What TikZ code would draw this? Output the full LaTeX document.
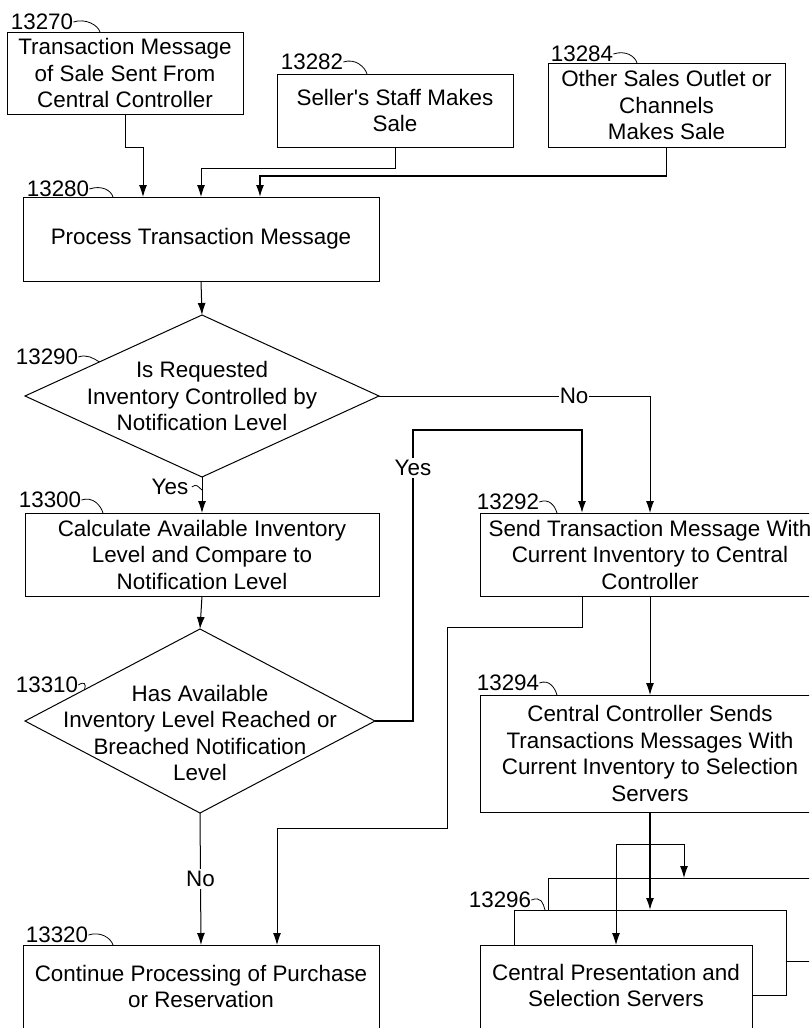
\documentclass[tikz,border=0pt]{standalone}
\usepackage{fontspec}
\setmainfont{Liberation Sans}
\usetikzlibrary{shapes.geometric,arrows.meta,calc}
\begin{document}
\begin{tikzpicture}[x=1pt,y=-1pt,
    font=\fontsize{22.4}{26.5}\selectfont,
    box/.style={draw,line width=1pt,fill=white,align=center,inner sep=0pt,outer sep=0pt},
    decision/.style={draw,diamond,line width=1pt,inner sep=0pt,outer sep=0pt},
    flow/.style={line width=1pt,-{Latex[length=12pt,width=8pt]}},
    heavy/.style={flow,line width=1.6pt},
    refnum/.style={inner sep=0pt},
    lead/.style={line width=0.8pt}]
  \clip (0,0) rectangle (809,1028);
  % sources
  \node[box,minimum width=236pt,minimum height=82pt] (n13270) at (125,73)
    {Transaction Message\\of Sale Sent From\\Central Controller};
  \node[box,minimum width=236pt,minimum height=73pt] (n13282) at (395,110.5)
    {Seller\textquotesingle s Staff Makes\\Sale};
  \node[box,minimum width=237pt,minimum height=84pt] (n13284) at (666.5,105)
    {Other Sales Outlet or\\Channels\\Makes Sale};
  % left column
  \node[box,minimum width=356pt,minimum height=84pt] (n13280) at (201,239)
    {Process Transaction Message};
  \node[decision,minimum width=354pt,minimum height=162pt,
    label={[align=center]center:Is Requested\\Inventory Controlled by\\Notification Level}]
    (d13290) at (202,396) {};
  \node[box,minimum width=354pt,minimum height=83pt] (n13300) at (202,554.5)
    {Calculate Available Inventory\\Level and Compare to\\Notification Level};
  \node[decision,minimum width=350pt,minimum height=184pt,
    label={[align=center,yshift=-12pt]center:Has Available\\Inventory Level Reached or\\Breached Notification\\Level}]
    (d13310) at (200,721) {};
  \node[box,minimum width=356pt,minimum height=90pt,
    label={[align=center,yshift=3.5pt]center:Continue Processing of Purchase\\or Reservation}]
    (n13320) at (201,990) {};
  % right column
  \node[box,minimum width=340pt,minimum height=83pt] (n13292) at (650,554.5)
    {Send Transaction Message With\\Current Inventory to Central\\Controller};
  \node[box,minimum width=340pt,minimum height=117pt] (n13294) at (650,753.5)
    {Central Controller Sends\\Transactions Messages With\\Current Inventory to Selection\\Servers};
  \node[box,minimum width=272pt,minimum height=83pt] (back13296) at (684,919.5) {};
  \node[box,minimum width=272pt,minimum height=85pt] (mid13296) at (650,952.5) {};
  \node[box,minimum width=272pt,minimum height=90pt,
    label={[align=center,yshift=4.5pt]center:Central Presentation and\\Selection Servers}]
    (n13296) at (616,990) {};

  % reference numbers
  \node[refnum] (l13270) at (42,22) {13270};
  \node[refnum] (l13282) at (312,62) {13282};
  \node[refnum] (l13284) at (582,54) {13284};
  \node[refnum] (l13280) at (58,189) {13280};
  \node[refnum] (l13290) at (47,357) {13290};
  \node[refnum] (l13300) at (50,500) {13300};
  \node[refnum] (l13310) at (47,685) {13310};
  \node[refnum] (l13320) at (57,935) {13320};
  \node[refnum] (l13292) at (508,502) {13292};
  \node[refnum] (l13294) at (508,683) {13294};
  \node[refnum] (l13296) at (500,900) {13296};
  \draw[lead] (l13270.east) .. controls +(12,-4) and +(-2,-7) .. ([xshift=93pt]n13270.north west);
  \draw[lead] (l13282.east) .. controls +(12,-4) and +(-2,-7) .. ([xshift=90pt]n13282.north west);
  \draw[lead] (l13284.east) .. controls +(12,-4) and +(-2,-7) .. ([xshift=89pt]n13284.north west);
  \draw[lead] (l13280.east) .. controls +(12,-4) and +(-2,-7) .. ([xshift=90pt]n13280.north west);
  \draw[lead] (l13290.east) .. controls +(8,-3) and +(-6,-4) .. ($(d13290.west)!0.42!(d13290.north)$);
  \draw[lead] (l13300.east) .. controls +(12,-4) and +(-2,-7) .. ([xshift=78pt]n13300.north west);
  \draw[lead] (l13310.east) .. controls +(6,-4) and +(2,-6) .. ($(d13310.west)!0.34!(d13310.north)$);
  \draw[lead] (l13320.east) .. controls +(12,-4) and +(-2,-7) .. ([xshift=90pt]n13320.north west);
  \draw[lead] (l13292.east) .. controls +(10,-4) and +(-2,-7) .. ([xshift=77pt]n13292.north west);
  \draw[lead] (l13294.east) .. controls +(10,-4) and +(-2,-7) .. ([xshift=77pt]n13294.north west);
  \draw[lead] (l13296.east) .. controls +(10,-4) and +(-2,-7) .. ([xshift=31pt]mid13296.north west);

  % connectors
  \draw[flow] (n13270.south) -- ++(0,33) -| ([xshift=-58pt]n13280.north);
  \draw[flow] (n13282.south) -- ++(0,21) -| (n13280.north);
  \draw[heavy] (n13284.south) -- ++(0,29) -| ([xshift=59pt]n13280.north);
  \draw[flow] (n13280.south) -- (d13290.north);
  \draw[flow] (d13290.south) -- (n13300.north);
  \node (y13290) at (170,487) {Yes};
  \draw[lead] (y13290.east) .. controls +(5,-4) and +(-4,-3) .. ($(d13290.south)+(0,13)$);
  \draw[flow] (d13290.east) -| node[pos=0.36,fill=white,inner sep=1pt] {No} (n13292.north);
  \draw[flow] (n13300.south) -- (d13310.north);
  \draw[flow] (d13310.south) -- node[fill=white,inner sep=2pt] {No} (n13320.north);
  \draw[heavy] (d13310.east) -- ++(38,0) -- node[pos=0.87,fill=white,inner sep=2pt] {Yes} ++(0,-291)
    -| ([xshift=-68pt]n13292.north);
  \draw[flow] ([xshift=-68pt]n13292.south) -- ++(0,31) -- ++(-135,0) -- ++(0,201)
    -| ([xshift=76pt]n13320.north);
  \draw[flow] (n13292.south) -- (n13294.north);
  \draw[heavy] (n13294.south) -- (mid13296.north);
  \path (n13294.south) ++(0,32) coordinate (split);
  \draw[flow] (split) -| (back13296.north);
  \draw[flow] (split) -| (n13296.north);
\end{tikzpicture}
\end{document}
